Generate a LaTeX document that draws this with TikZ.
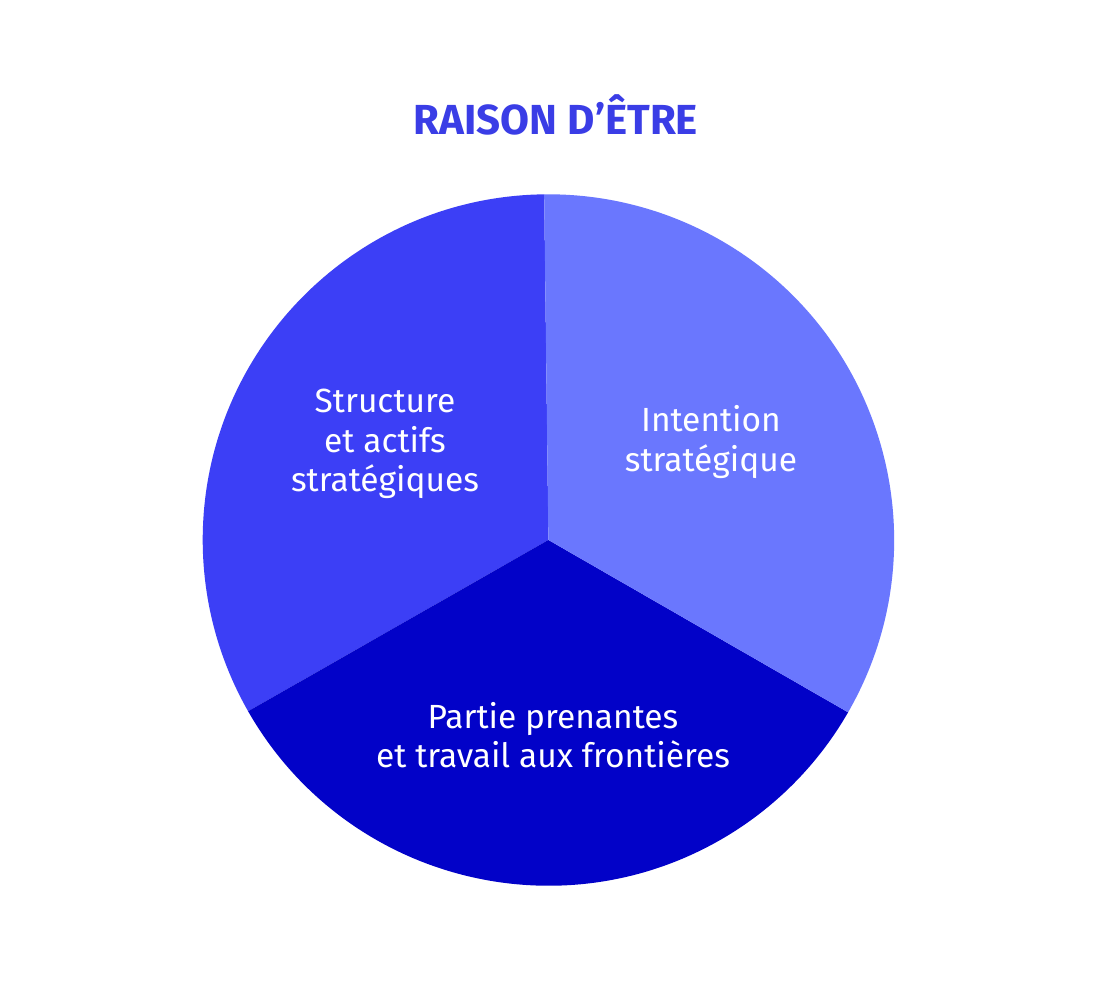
\documentclass[tikz,border=0pt]{standalone}
\usepackage{fontspec}
\setmainfont{Fira Sans}
\newfontfamily\labelfont{Fira Sans}
\newfontfamily\titlefont{Fira Sans Bold}
\definecolor{colL}{HTML}{3C3FF6}
\definecolor{colR}{HTML}{6A77FE}
\definecolor{colB}{HTML}{0202C8}
\definecolor{colT}{HTML}{3A3DE6}
\begin{document}
\begin{tikzpicture}[
  sector/.style={draw=none},
  lbl/.style={text=white, align=center, inner sep=0pt, font=\labelfont\fontsize{33.5}{39.5}\selectfont},
  ttl/.style={text=colT, inner sep=0pt, anchor=base, font=\titlefont\fontsize{42}{48}\selectfont}
]
\useasboundingbox (0pt,0pt) rectangle (1100pt,980pt);
\fill[white] (0pt,0pt) rectangle (1100pt,980pt);
\coordinate (c) at (548.4pt,440pt);
\def\R{345.7pt}
\fill[colL, sector] (c) -- ++(90.7:\R) arc[start angle=90.7, end angle=209.7, radius=\R] -- cycle;
\fill[colB, sector] (c) -- ++(209.7:\R) arc[start angle=209.7, end angle=330.1, radius=\R] -- cycle;
\fill[colR, sector] (c) -- ++(330.1:\R) arc[start angle=-29.9, end angle=90.7, radius=\R] -- cycle;
\node[ttl] (title) at (556pt,845pt) {RAISON D’ÊTRE};
\node[lbl] (left) at (385pt,536pt) {Structure\\et actifs\\stratégiques};
\node[lbl] (right) at (711pt,538pt) {Intention\\stratégique};
\node[lbl] (bottom) at (553pt,245pt) {Partie prenantes\\et travail aux frontières};
\end{tikzpicture}
\end{document}
